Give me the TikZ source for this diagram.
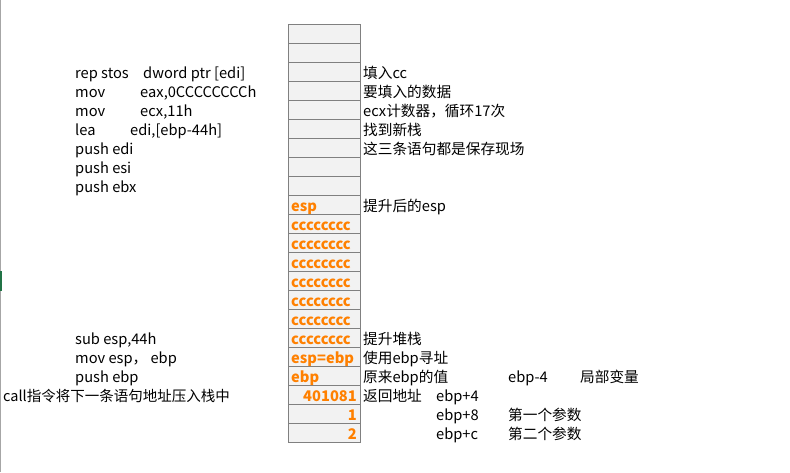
\documentclass[tikz,border=0pt]{standalone}
\usepackage{fontspec}
\setmainfont{Noto Sans CJK SC}
\definecolor{cellfill}{RGB}{242,242,242}
\definecolor{cellline}{RGB}{128,128,128}
\definecolor{orangetxt}{RGB}{255,128,0}
\definecolor{xlgreen}{RGB}{33,115,70}
\begin{document}
\begin{tikzpicture}[x=1pt,y=1pt,
  cell/.style={draw=cellline,line width=0.9pt,fill=cellfill,minimum width=72pt,minimum height=19pt,inner sep=0pt},
  txt/.style={anchor=base west,inner sep=0pt,font=\fontsize{14.67}{16}\selectfont},
  otxt/.style={anchor=base west,inner sep=0pt,text=orangetxt,font=\fontsize{14.67}{16}\selectfont\bfseries},
  rtxt/.style={anchor=base east,inner sep=0pt,text=orangetxt,font=\fontsize{14.67}{16}\selectfont\bfseries}]
\useasboundingbox[fill=white] (0,0) rectangle (790,-472);
\fill[cellline!70] (0,0) rectangle (1.2,-472);
\fill[xlgreen] (0,-271) rectangle (2,-291);
% stack cells
\foreach \i in {1,...,22}
  \node[cell] (c\i) at (324,{-(33.5+19*(\i-1))}) {};
% cell contents
\node[otxt] (v10) at (291,-211) {esp};
\foreach \i/\y in {11/230,12/249,13/268,14/287,15/306,16/325,17/344}
  \node[otxt] (v\i) at (291,-\y) {cccccccc};
\node[otxt] (v18) at (291,-363) {esp=ebp};
\node[otxt] (v19) at (291,-382) {ebp};
\node[rtxt] (v20) at (357,-401) {401081};
\node[rtxt] (v21) at (357,-420) {1};
\node[rtxt] (v22) at (357,-439) {2};
% left instructions
\node[txt] (a3) at (75,-78) {rep stos};
\node[txt] (b3) at (143,-78) {dword ptr [edi]};
\node[txt] (a4) at (75,-97) {mov};
\node[txt] (b4) at (140,-97) {eax,0CCCCCCCCh};
\node[txt] (a5) at (75,-116) {mov};
\node[txt] (b5) at (140,-116) {ecx,11h};
\node[txt] (a6) at (75,-135) {lea};
\node[txt] (b6) at (130,-135) {edi,[ebp-44h]};
\node[txt] (a7) at (75,-154) {push edi};
\node[txt] (a8) at (75,-173) {push esi};
\node[txt] (a9) at (75,-192) {push ebx};
\node[txt] (a17) at (75,-344) {sub esp,44h};
\node[txt] (a18) at (75,-363) {mov esp，\ ebp};
\node[txt] (a19) at (75,-382) {push ebp};
\node[txt,font=\fontsize{14.5}{16}\selectfont] (a20) at (3,-401) {call指令将下一条语句地址压入栈中};
% right comments
\node[txt] (r3) at (363,-78) {填入cc};
\node[txt] (r4) at (363,-97) {要填入的数据};
\node[txt] (r5) at (363,-116) {ecx计数器，循环17次};
\node[txt] (r6) at (363,-135) {找到新栈};
\node[txt] (r7) at (363,-154) {这三条语句都是保存现场};
\node[txt] (r10) at (363,-211) {提升后的esp};
\node[txt] (r17) at (363,-344) {提升堆栈};
\node[txt] (r18) at (363,-363) {使用ebp寻址};
\node[txt] (r19) at (363,-382) {原来ebp的值};
\node[txt] (s19) at (508,-382) {ebp-4};
\node[txt] (t19) at (580,-382) {局部变量};
\node[txt] (r20) at (363,-401) {返回地址};
\node[txt] (s20) at (436,-401) {ebp+4};
\node[txt] (s21) at (436,-420) {ebp+8};
\node[txt] (t21) at (508,-420) {第一个参数};
\node[txt] (s22) at (436,-439) {ebp+c};
\node[txt] (t22) at (508,-439) {第二个参数};
\end{tikzpicture}
\end{document}
